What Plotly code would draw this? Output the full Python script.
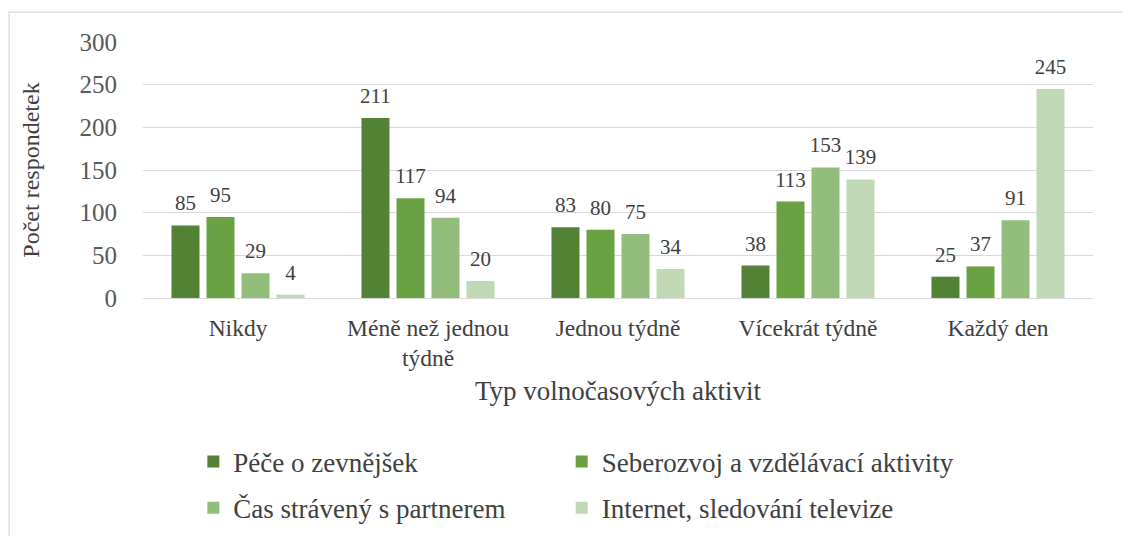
import plotly.graph_objects as go

categories = ["Nikdy", "Méně než jednou<br>týdně", "Jednou týdně", "Vícekrát týdně", "Každý den"]
series_names = ["Péče o zevnějšek", "Seberozvoj a vzdělávací aktivity",
                "Čas strávený s partnerem", "Internet, sledování televize"]
pece = [85, 211, 83, 38, 25]
seberozvoj = [95, 117, 80, 113, 37]
partner = [29, 94, 75, 153, 91]
internet = [4, 20, 34, 139, 245]
y_ticks = [0, 50, 100, 150, 200, 250, 300]

colors = ["#548235", "#6aa142", "#93bd7b", "#c1d8b6"]
font = "Liberation Serif"

fig = go.Figure()
all_vals = [pece, seberozvoj, partner, internet]
# legend is laid out in two columns: series 0,2 on the left, 1,3 on the right
for i, (name, vals, col) in enumerate(zip(series_names, all_vals, colors)):
    fig.add_trace(go.Bar(x=categories, y=vals, name=name, marker=dict(color=col, line=dict(width=0)),
                         legend="legend" if i % 2 == 0 else "legend2", legendgroup=f"g{i}"))
# data labels: invisible markers to lift the text a bit above the bars
for vals in all_vals:
    fig.add_trace(go.Scatter(x=categories, y=vals, mode="markers+text", text=vals,
                             textposition="top center", cliponaxis=False, showlegend=False,
                             marker=dict(size=14, opacity=0), hoverinfo="skip",
                             textfont=dict(family=font, size=21, color="#404040")))

leg_style = dict(orientation="v", yanchor="top", xanchor="left", y=-0.545,
                 font=dict(size=27, color="#404040"), itemwidth=30, tracegroupgap=8,
                 bgcolor="rgba(0,0,0,0)")

# page body has an 8px margin; figure is taller than the window so the legend has room
fig.update_layout(
    width=1123, height=560,
    margin=dict(l=135, r=38, t=34, b=270),
    paper_bgcolor="white", plot_bgcolor="white",
    barmode="group", bargap=0.263, bargroupgap=0.2,
    scattermode="group", scattergap=0.263,
    font=dict(family=font, color="#595959"),
    xaxis=dict(title=dict(text="Typ volnočasových aktivit", font=dict(size=27, color="#404040"), standoff=11),
               tickfont=dict(size=23.5, color="#404040"), showline=False, ticks="", automargin=False,
               ticklabelstandoff=13),
    yaxis=dict(title=dict(text="Počet respondetek", font=dict(size=24, color="#404040"), standoff=33),
               range=[0, 300], tickvals=y_ticks, tickfont=dict(size=25, color="#595959"),
               showgrid=True, gridcolor="#d9d9d9", gridwidth=1.3, zeroline=True, zerolinecolor="#d9d9d9",
               zerolinewidth=1.3, ticks="", ticklabelstandoff=25, automargin=False),
    legend=dict(x=0.053, **leg_style),
    legend2=dict(x=0.4407, **leg_style),
)

fig.add_shape(type="rect", xref="paper", yref="paper", x0=-0.141, x1=1.05, y0=-0.97, y1=1.117,
              line=dict(color="#d9d9d9", width=1.3), fillcolor="rgba(0,0,0,0)", layer="below")

fig.write_html("out.html")
